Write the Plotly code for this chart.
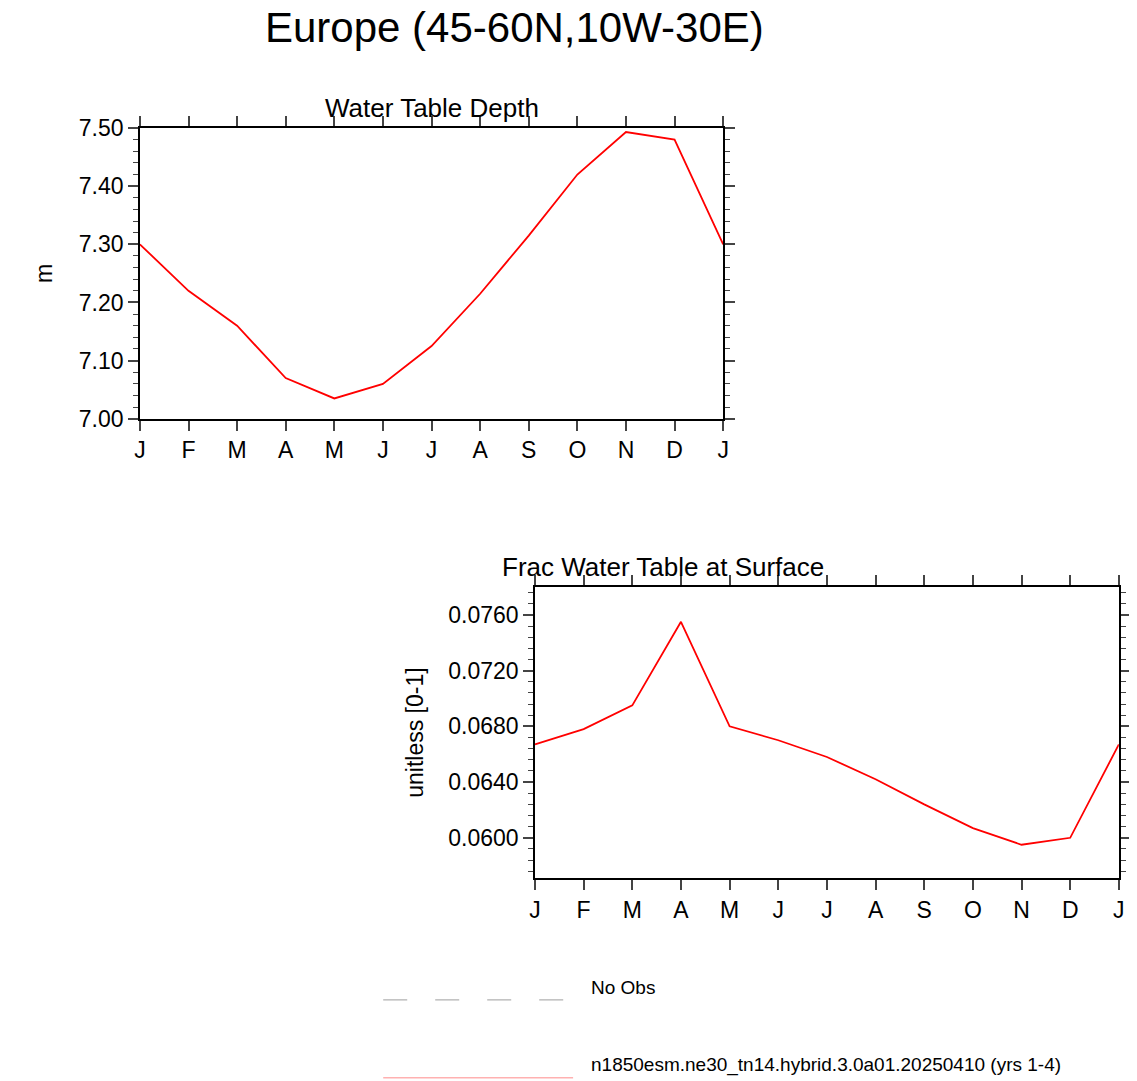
import numpy as np
import plotly.graph_objects as go
import plotly.io as pio
from plotly.subplots import make_subplots
pio.templates.default = "simple_white"


def plot_europe_water_table():
    # monthly climatology, Jan repeated at the end to close the cycle
    months = ["J", "F", "M", "A", "M", "J", "J", "A", "S", "O", "N", "D", "J"]
    month_idx = np.arange(len(months))
    wtd = [7.30, 7.22, 7.16, 7.07, 7.035, 7.06, 7.125, 7.215, 7.315, 7.42, 7.493, 7.48, 7.30]
    frac_wt = [0.0667, 0.0678, 0.0695, 0.0755, 0.0680, 0.0670, 0.0658, 0.0642,
               0.0624, 0.0607, 0.0595, 0.0600, 0.0667]

    fig = make_subplots(rows=2, cols=1)
    fig.add_trace(go.Scatter(x=month_idx, y=wtd, mode='lines', line=dict(color="red", width=1.8),
                             showlegend=False), row=1, col=1)
    fig.add_trace(go.Scatter(x=month_idx, y=frac_wt, mode='lines', line=dict(color="red", width=1.8),
                             showlegend=False), row=2, col=1)

    axis_style = dict(showline=True, linecolor="black", linewidth=1.5, mirror="allticks", ticks="outside",
                      ticklen=10, tickwidth=1.5, tickfont=dict(size=23, color="black"), showgrid=False,
                      automargin=False)
    minor_style = dict(ticks="outside", ticklen=5, tickwidth=1, showgrid=False)
    fig.update_xaxes(**axis_style, range=[0, 12], tickvals=month_idx, ticktext=months, minor=dict(ticks=""))
    fig.update_xaxes(domain=[0.116, 0.629], row=1, col=1)
    fig.update_xaxes(domain=[0.4635, 0.977], row=2, col=1)
    fig.update_yaxes(**axis_style)
    fig.update_yaxes(domain=[0.620, 0.889], range=[7.0, 7.5], dtick=0.1, tickformat=".2f",
                     minor=dict(dtick=0.02, **minor_style), row=1, col=1)
    fig.update_yaxes(domain=[0.195, 0.4644], range=[0.0571, 0.0780], tickvals=[0.060, 0.064, 0.068, 0.072, 0.076],
                     tickformat=".4f", minor=dict(dtick=0.0008, **minor_style), row=2, col=1)
    fig.update_yaxes(title_text="m", title_font=dict(size=23), title_standoff=20, row=1, col=1)
    fig.update_yaxes(title_text="unitless [0-1]", title_font=dict(size=23), title_standoff=18, row=2, col=1)

    fig.add_annotation(text="Europe (45-60N,10W-30E)", x=0.667, y=0.982, xref="paper", yref="paper",
                       yanchor="middle", showarrow=False, font=dict(size=42, color="black"))
    fig.add_annotation(text="Water Table Depth", x=0.3725, y=0.892, xref="paper", yref="paper",
                       yanchor="bottom", showarrow=False, font=dict(size=26, color="black"))
    fig.add_annotation(text="Frac Water Table at Surface", x=0.719, y=0.4675, xref="paper", yref="paper",
                       yanchor="bottom", showarrow=False, font=dict(size=26, color="black"))

    # legend drawn below the panels
    fig.add_shape(type="line", x0=0.33, x1=0.49, y0=0.0825, y1=0.0825, xref="paper", yref="paper",
                  line=dict(color="black", width=1.2, dash="24px,28px"))
    fig.add_annotation(text="No Obs", x=0.511, y=0.0825, xref="paper", yref="paper", xanchor="left",
                       showarrow=False, font=dict(size=19, color="black"))
    fig.add_shape(type="line", x0=0.33, x1=0.497, y0=0.0105, y1=0.0105, xref="paper", yref="paper",
                  line=dict(color="red", width=1.5))
    fig.add_annotation(text="n1850esm.ne30_tn14.hybrid.3.0a01.20250410 (yrs 1-4)", x=0.511, y=0.0105,
                       xref="paper", yref="paper", xanchor="left", showarrow=False,
                       font=dict(size=19, color="black"))

    fig.update_layout(width=1137, height=1081, margin=dict(l=0, r=0, t=0, b=0),
                      font=dict(family="Liberation Sans, Arial", color="black"))
    fig.write_html("out.html")


if __name__ == '__main__':
    plot_europe_water_table()
